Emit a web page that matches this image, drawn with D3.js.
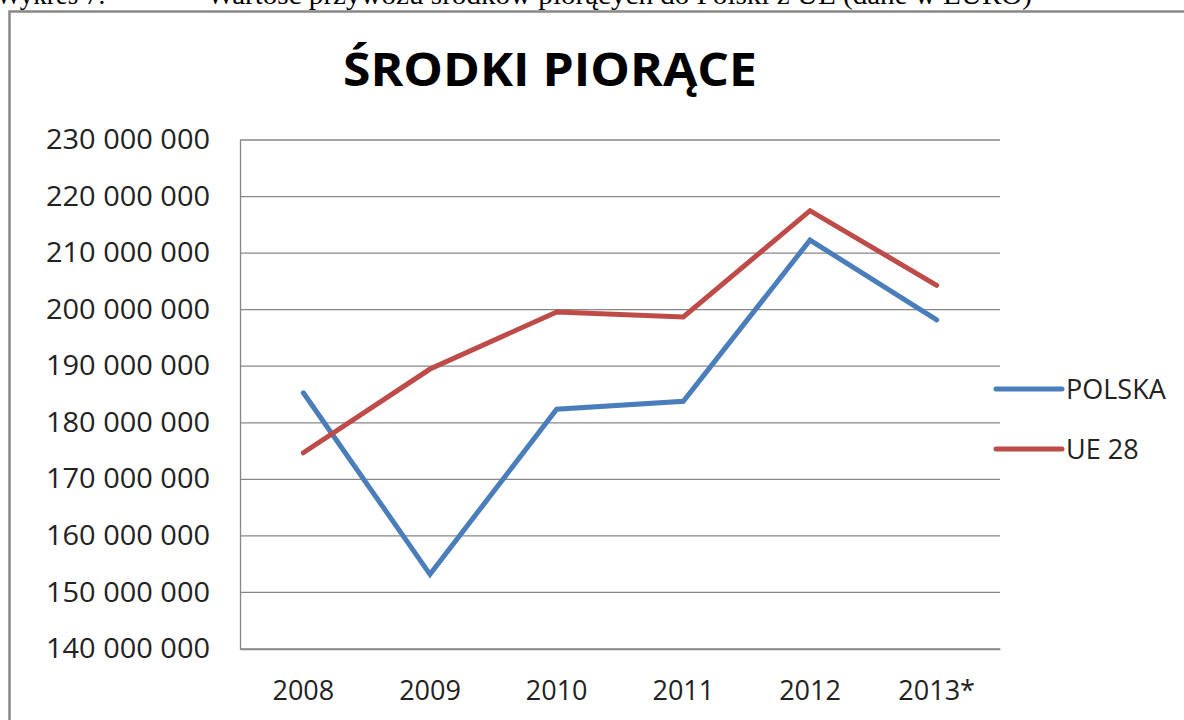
<!DOCTYPE html>
<html>
<head>
<meta charset="utf-8">
<script src="https://cdn.jsdelivr.net/npm/d3@7"></script>
<style>
  body { margin: 0; background: #fff; overflow: hidden; }
</style>
</head>
<body>
<div id="chart"></div>
<script>
  const years = ['2008', '2009', '2010', '2011', '2012', '2013*'];
  const polska = [185300000, 153200000, 182400000, 183800000, 212300000, 198200000];
  const ue28 = [174700000, 189500000, 199600000, 198700000, 217500000, 204300000];
  const yTicks = [140000000, 150000000, 160000000, 170000000, 180000000, 190000000, 200000000, 210000000, 220000000, 230000000];
  const seriesNames = ['POLSKA', 'UE 28'];

  const width = 1184, height = 720;
  const colors = ['#4a7ebb', '#be4b48'];
  const font = '"Open Sans", Lato, sans-serif';

  const svg = d3.select('#chart').append('svg')
    .attr('width', width)
    .attr('height', height);

  // caption from the document, cut at the top
  svg.append('text')
    .attr('x', 207)
    .attr('y', 4)
    .attr('textLength', 825)
    .attr('lengthAdjust', 'spacingAndGlyphs')
    .style('font-family', '"Liberation Serif", "Times New Roman", serif')
    .style('font-size', '27px')
    .text('Wartość przywozu środków piorących do Polski z UE (dane w EURO)');
  svg.append('text')
    .attr('x', -4)
    .attr('y', 4)
    .style('font-family', '"Liberation Serif", "Times New Roman", serif')
    .style('font-size', '27px')
    .text('Wykres 7.');

  // chart frame
  svg.append('rect')
    .attr('x', 9.5)
    .attr('y', 11.5)
    .attr('width', 1200)
    .attr('height', 760)
    .attr('fill', 'none')
    .attr('stroke', '#888')
    .attr('stroke-width', 2.5);

  svg.append('text')
    .attr('x', 550)
    .attr('y', 86)
    .attr('text-anchor', 'middle')
    .attr('textLength', 414)
    .attr('lengthAdjust', 'spacingAndGlyphs')
    .style('font-family', font)
    .style('font-weight', 'bold')
    .style('font-size', '46px')
    .text('ŚRODKI PIORĄCE');

  const margin = { left: 240, right: 1000, top: 140, bottom: 649 };

  const x = d3.scaleBand()
    .domain(years)
    .range([margin.left, margin.right]);

  const y = d3.scaleLinear()
    .domain([140000000, 230000000])
    .range([margin.bottom, margin.top]);

  const fmt = function(v) { return d3.format(',')(v).replace(/,/g, ' '); };

  // gridlines
  svg.append('g')
    .selectAll('line')
    .data(yTicks)
    .enter().append('line')
    .attr('x1', margin.left)
    .attr('x2', margin.right)
    .attr('y1', function(d) { return y(d); })
    .attr('y2', function(d) { return y(d); })
    .attr('stroke', '#868686')
    .attr('stroke-width', 1.3);

  // y axis
  const yAxis = svg.append('g')
    .attr('transform', 'translate(' + margin.left + ',0)')
    .call(d3.axisLeft(y).tickValues(yTicks).tickFormat(fmt).tickSize(0).tickPadding(30));
  yAxis.select('.domain').attr('stroke', '#868686').attr('stroke-width', 1.3);
  yAxis.selectAll('text')
    .style('font-family', font)
    .style('font-size', '27px')
    .attr('fill', '#222')
    .attr('textLength', 164)
    .attr('lengthAdjust', 'spacingAndGlyphs');

  // x axis
  const xAxis = svg.append('g')
    .attr('transform', 'translate(0,' + margin.bottom + ')')
    .call(d3.axisBottom(x).tickSize(0).tickPadding(32));
  xAxis.select('.domain').attr('stroke', '#868686').attr('stroke-width', 1.3);
  xAxis.selectAll('text')
    .style('font-family', font)
    .style('font-size', '27px')
    .attr('fill', '#222');

  const line = d3.line()
    .x(function(d, i) { return x(years[i]) + x.bandwidth() / 2; })
    .y(function(d) { return y(d); });

  [polska, ue28].forEach(function(s, i) {
    svg.append('path')
      .datum(s)
      .attr('d', line)
      .attr('fill', 'none')
      .attr('stroke', colors[i])
      .attr('stroke-width', 5)
      .attr('stroke-linejoin', 'miter')
      .attr('stroke-linecap', 'round');
  });

  // legend
  const legend = svg.append('g')
    .attr('transform', 'translate(996, 389)');
  seriesNames.forEach(function(name, i) {
    legend.append('line')
      .attr('x1', 0)
      .attr('x2', 66)
      .attr('y1', i * 60)
      .attr('y2', i * 60)
      .attr('stroke', colors[i])
      .attr('stroke-width', 5)
      .attr('stroke-linecap', 'round');
    legend.append('text')
      .attr('x', 70)
      .attr('y', i * 60 + 10)
      .style('font-family', font)
      .style('font-size', '27px')
      .attr('fill', '#222')
      .text(name);
  });
</script>
</body>
</html>
